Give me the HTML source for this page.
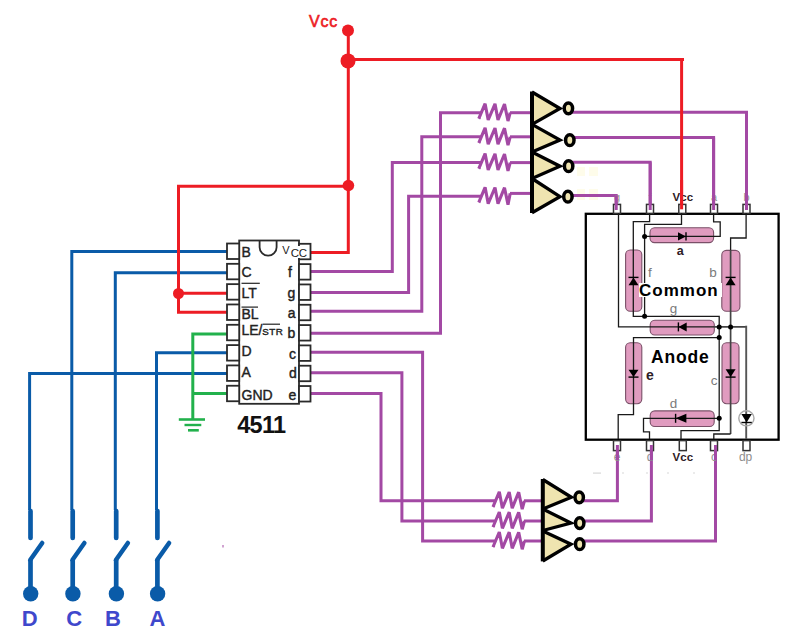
<!DOCTYPE html>
<html><head><meta charset="utf-8"><style>
html,body{margin:0;padding:0;background:#fff;overflow:hidden;}
svg{display:block;}
text{font-family:"Liberation Sans",sans-serif;}
</style></head><body>
<svg width="812" height="640" viewBox="0 0 812 640">
<rect x="589" y="189" width="9" height="11" fill="#FEFCEA"/>
<rect x="577" y="189" width="8" height="11" fill="#FEFCEA"/>
<rect x="589" y="167" width="9" height="9" fill="#FEFCEA"/>
<rect x="577" y="167" width="8" height="9" fill="#FEFCEA"/>
<rect x="693" y="472.5" width="2" height="1" fill="#d8d8d8"/>
<rect x="667" y="472.5" width="2" height="1" fill="#d8d8d8"/>
<rect x="646" y="472.5" width="2" height="1" fill="#d8d8d8"/>
<rect x="622" y="472.5" width="2" height="1" fill="#d8d8d8"/>
<rect x="593" y="472.5" width="8" height="1.2" fill="#d8d8d8"/>
<path d="M29.6,510 L29.6,373.5 L228,373.5" fill="none" stroke="#0A5BA8" stroke-width="3" stroke-linecap="butt" stroke-linejoin="miter" />
<path d="M30.5,511 L30.5,538" fill="none" stroke="#0A5BA8" stroke-width="4.7" stroke-linecap="round" stroke-linejoin="miter" />
<path d="M30.200000000000003,560 L42.2,543" fill="none" stroke="#0A5BA8" stroke-width="4.5" stroke-linecap="round" stroke-linejoin="miter" />
<path d="M30.5,560 L30.5,593" fill="none" stroke="#0A5BA8" stroke-width="4.7" stroke-linecap="butt" stroke-linejoin="miter" />
<circle cx="30.700000000000003" cy="593.8" r="7.7" fill="#0A5BA8" />
<path d="M71.8,510 L71.8,251.6 L228,251.6" fill="none" stroke="#0A5BA8" stroke-width="3" stroke-linecap="butt" stroke-linejoin="miter" />
<path d="M72.7,511 L72.7,538" fill="none" stroke="#0A5BA8" stroke-width="4.7" stroke-linecap="round" stroke-linejoin="miter" />
<path d="M72.39999999999999,560 L84.39999999999999,543" fill="none" stroke="#0A5BA8" stroke-width="4.5" stroke-linecap="round" stroke-linejoin="miter" />
<path d="M72.7,560 L72.7,593" fill="none" stroke="#0A5BA8" stroke-width="4.7" stroke-linecap="butt" stroke-linejoin="miter" />
<circle cx="72.89999999999999" cy="593.8" r="7.7" fill="#0A5BA8" />
<path d="M115.3,510 L115.3,272.8 L228,272.8" fill="none" stroke="#0A5BA8" stroke-width="3" stroke-linecap="butt" stroke-linejoin="miter" />
<path d="M116.2,511 L116.2,538" fill="none" stroke="#0A5BA8" stroke-width="4.7" stroke-linecap="round" stroke-linejoin="miter" />
<path d="M115.89999999999999,560 L127.89999999999999,543" fill="none" stroke="#0A5BA8" stroke-width="4.5" stroke-linecap="round" stroke-linejoin="miter" />
<path d="M116.2,560 L116.2,593" fill="none" stroke="#0A5BA8" stroke-width="4.7" stroke-linecap="butt" stroke-linejoin="miter" />
<circle cx="116.39999999999999" cy="593.8" r="7.7" fill="#0A5BA8" />
<path d="M156.5,510 L156.5,352.8 L228,352.8" fill="none" stroke="#0A5BA8" stroke-width="3" stroke-linecap="butt" stroke-linejoin="miter" />
<path d="M157.4,511 L157.4,538" fill="none" stroke="#0A5BA8" stroke-width="4.7" stroke-linecap="round" stroke-linejoin="miter" />
<path d="M157.1,560 L169.1,543" fill="none" stroke="#0A5BA8" stroke-width="4.5" stroke-linecap="round" stroke-linejoin="miter" />
<path d="M157.4,560 L157.4,593" fill="none" stroke="#0A5BA8" stroke-width="4.7" stroke-linecap="butt" stroke-linejoin="miter" />
<circle cx="157.6" cy="593.8" r="7.7" fill="#0A5BA8" />
<text x="29.8" y="626" font-size="22" fill="#3F48CC" font-weight="bold" text-anchor="middle" >D</text>
<text x="74.3" y="626" font-size="22" fill="#3F48CC" font-weight="bold" text-anchor="middle" >C</text>
<text x="113" y="626" font-size="22" fill="#3F48CC" font-weight="bold" text-anchor="middle" >B</text>
<text x="157.4" y="626" font-size="22" fill="#3F48CC" font-weight="bold" text-anchor="middle" >A</text>
<path d="M192.8,419 L192.8,334 L228,334" fill="none" stroke="#22B14C" stroke-width="3" stroke-linecap="butt" stroke-linejoin="miter" />
<path d="M192.8,393.5 L228,393.5" fill="none" stroke="#22B14C" stroke-width="3" stroke-linecap="butt" stroke-linejoin="miter" />
<path d="M178.8,419.5 L205,419.5" fill="none" stroke="#22B14C" stroke-width="2.6" stroke-linecap="butt" stroke-linejoin="miter" />
<path d="M184.5,425 L201.3,425" fill="none" stroke="#22B14C" stroke-width="2.4" stroke-linecap="butt" stroke-linejoin="miter" />
<path d="M188,430.3 L198.8,430.3" fill="none" stroke="#22B14C" stroke-width="2.6" stroke-linecap="butt" stroke-linejoin="miter" />
<path d="M310.5,333.3 L440.5,333.3 L440.5,112.7 L481,112.7" fill="none" stroke="#A349A4" stroke-width="3" stroke-linecap="butt" stroke-linejoin="miter" />
<path d="M479.8,117.2 L478.8,118.7 L485.1,103.7 L488.2,120.0 L495.0,103.9 L498.0,120.0 L504.5,104.10000000000001 L508.0,121.0 L510.2,112.7" fill="none" stroke="#A349A4" stroke-width="3.1" stroke-linecap="butt" stroke-linejoin="bevel" />
<path d="M510,112.7 L533,112.7" fill="none" stroke="#A349A4" stroke-width="3" stroke-linecap="butt" stroke-linejoin="miter" />
<path d="M570,112.3 L746.5,112.3 L746.5,210" fill="none" stroke="#A349A4" stroke-width="3" stroke-linecap="butt" stroke-linejoin="miter" />
<path d="M310.5,311.3 L421.8,311.3 L421.8,136.8 L481,136.8" fill="none" stroke="#A349A4" stroke-width="3" stroke-linecap="butt" stroke-linejoin="miter" />
<path d="M479.8,141.3 L478.8,142.8 L485.1,127.80000000000001 L488.2,144.10000000000002 L495.0,128.0 L498.0,144.10000000000002 L504.5,128.20000000000002 L508.0,145.10000000000002 L510.2,136.8" fill="none" stroke="#A349A4" stroke-width="3.1" stroke-linecap="butt" stroke-linejoin="bevel" />
<path d="M510,136.8 L533,136.8" fill="none" stroke="#A349A4" stroke-width="3" stroke-linecap="butt" stroke-linejoin="miter" />
<path d="M570,137.6 L713.6,137.6 L713.6,210" fill="none" stroke="#A349A4" stroke-width="3" stroke-linecap="butt" stroke-linejoin="miter" />
<path d="M310.5,271.4 L392.3,271.4 L392.3,162.6 L481,162.6" fill="none" stroke="#A349A4" stroke-width="3" stroke-linecap="butt" stroke-linejoin="miter" />
<path d="M479.8,167.1 L478.8,168.6 L485.1,153.6 L488.2,169.9 L495.0,153.79999999999998 L498.0,169.9 L504.5,154.0 L508.0,170.9 L510.2,162.6" fill="none" stroke="#A349A4" stroke-width="3.1" stroke-linecap="butt" stroke-linejoin="bevel" />
<path d="M510,162.6 L533,162.6" fill="none" stroke="#A349A4" stroke-width="3" stroke-linecap="butt" stroke-linejoin="miter" />
<path d="M570,162.2 L650.2,162.2 L650.2,210" fill="none" stroke="#A349A4" stroke-width="3" stroke-linecap="butt" stroke-linejoin="miter" />
<path d="M310.5,292.5 L408.6,292.5 L408.6,196.3 L481,196.3" fill="none" stroke="#A349A4" stroke-width="3" stroke-linecap="butt" stroke-linejoin="miter" />
<path d="M479.8,200.8 L478.8,202.3 L485.1,187.3 L488.2,203.60000000000002 L495.0,187.5 L498.0,203.60000000000002 L504.5,187.70000000000002 L508.0,204.60000000000002 L510.2,193.4" fill="none" stroke="#A349A4" stroke-width="3.1" stroke-linecap="butt" stroke-linejoin="bevel" />
<path d="M510,193.4 L533,193.4" fill="none" stroke="#A349A4" stroke-width="3" stroke-linecap="butt" stroke-linejoin="miter" />
<path d="M570,195.5 L616.2,195.5 L616.2,210" fill="none" stroke="#A349A4" stroke-width="3" stroke-linecap="butt" stroke-linejoin="miter" />
<path d="M310.5,393.5 L381,393.5 L381,500.8 L495,500.8" fill="none" stroke="#A349A4" stroke-width="3" stroke-linecap="butt" stroke-linejoin="miter" />
<path d="M494,505.3 L493,506.8 L499.3,491.8 L502.4,508.1 L509.2,492.0 L512.2,508.1 L518.7,492.2 L522.2,509.1 L524.4,500.8" fill="none" stroke="#A349A4" stroke-width="3.1" stroke-linecap="butt" stroke-linejoin="bevel" />
<path d="M524,500.8 L544,500.8" fill="none" stroke="#A349A4" stroke-width="3" stroke-linecap="butt" stroke-linejoin="miter" />
<path d="M580,500.8 L617.4,500.8 L617.4,445" fill="none" stroke="#A349A4" stroke-width="3" stroke-linecap="butt" stroke-linejoin="miter" />
<path d="M310.5,372.7 L401.9,372.7 L401.9,521.0 L495,521.0" fill="none" stroke="#A349A4" stroke-width="3" stroke-linecap="butt" stroke-linejoin="miter" />
<path d="M494,525.5 L493,527.0 L499.3,512.0 L502.4,528.3 L509.2,512.2 L512.2,528.3 L518.7,512.4 L522.2,529.3 L524.4,521.0" fill="none" stroke="#A349A4" stroke-width="3.1" stroke-linecap="butt" stroke-linejoin="bevel" />
<path d="M524,521.0 L544,521.0" fill="none" stroke="#A349A4" stroke-width="3" stroke-linecap="butt" stroke-linejoin="miter" />
<path d="M580,521.0 L651.4,521.0 L651.4,445" fill="none" stroke="#A349A4" stroke-width="3" stroke-linecap="butt" stroke-linejoin="miter" />
<path d="M310.5,352.3 L422.6,352.3 L422.6,541.0 L495,541.0" fill="none" stroke="#A349A4" stroke-width="3" stroke-linecap="butt" stroke-linejoin="miter" />
<path d="M494,545.5 L493,547.0 L499.3,532.0 L502.4,548.3 L509.2,532.2 L512.2,548.3 L518.7,532.4 L522.2,549.3 L524.4,541.0" fill="none" stroke="#A349A4" stroke-width="3.1" stroke-linecap="butt" stroke-linejoin="bevel" />
<path d="M524,541.0 L544,541.0" fill="none" stroke="#A349A4" stroke-width="3" stroke-linecap="butt" stroke-linejoin="miter" />
<path d="M580,541.0 L715.5,541.0 L715.5,445" fill="none" stroke="#A349A4" stroke-width="3" stroke-linecap="butt" stroke-linejoin="miter" />
<path d="M348.3,30 L348.3,252.5 L310.5,252.5" fill="none" stroke="#ED1C24" stroke-width="3" stroke-linecap="butt" stroke-linejoin="miter" />
<path d="M348.3,59.5 L684,59.5" fill="none" stroke="#ED1C24" stroke-width="3" stroke-linecap="butt" stroke-linejoin="miter" />
<path d="M681.6,58 L681.6,209.3" fill="none" stroke="#ED1C24" stroke-width="3" stroke-linecap="butt" stroke-linejoin="miter" />
<circle cx="348" cy="30.6" r="6" fill="#ED1C24" />
<circle cx="348" cy="60.9" r="7.5" fill="#ED1C24" />
<path d="M348.3,186.3 L178.5,186.3 L178.5,312.3 L228,312.3" fill="none" stroke="#ED1C24" stroke-width="3" stroke-linecap="butt" stroke-linejoin="miter" />
<path d="M178.5,293.2 L228,293.2" fill="none" stroke="#ED1C24" stroke-width="3" stroke-linecap="butt" stroke-linejoin="miter" />
<circle cx="348.4" cy="185.5" r="5.8" fill="#ED1C24" />
<circle cx="178.5" cy="293.5" r="5.5" fill="#ED1C24" />
<text x="309" y="27" font-size="16" fill="#ED1C24" font-weight="normal" text-anchor="start" letter-spacing="0.8" stroke="#ED1C24" stroke-width="0.6">Vcc</text>
<path d="M532,92 L560,108.5 L532,124.4 Z" fill="#EFE4B0"/>
<path d="M532,124.4 L560,140 L532,152 Z" fill="#EFE4B0"/>
<path d="M532,152 L560,166.2 L532,178.5 Z" fill="#EFE4B0"/>
<path d="M532,178.5 L560,196.6 L532,212.8 Z" fill="#EFE4B0"/>
<path d="M532,92 L560,108.5 L532,124.4" fill="none" stroke="#000" stroke-width="3.3" stroke-linejoin="miter" stroke-miterlimit="3"/>
<path d="M532,124.4 L560,140 L532,152" fill="none" stroke="#000" stroke-width="3.3" stroke-linejoin="miter" stroke-miterlimit="3"/>
<path d="M532,152 L560,166.2 L532,178.5" fill="none" stroke="#000" stroke-width="3.3" stroke-linejoin="miter" stroke-miterlimit="3"/>
<path d="M532,178.5 L560,196.6 L532,212.8" fill="none" stroke="#000" stroke-width="3.3" stroke-linejoin="miter" stroke-miterlimit="3"/>
<ellipse cx="568.4" cy="108.3" rx="4.2" ry="5.4" fill="#EFE4B0" stroke="#000" stroke-width="3.5"/>
<ellipse cx="569.8" cy="140.2" rx="4.2" ry="5.4" fill="#EFE4B0" stroke="#000" stroke-width="3.5"/>
<ellipse cx="568.6" cy="166.2" rx="4.2" ry="5.4" fill="#EFE4B0" stroke="#000" stroke-width="3.5"/>
<ellipse cx="567.9" cy="196.7" rx="4.2" ry="5.4" fill="#EFE4B0" stroke="#000" stroke-width="3.5"/>
<path d="M532,91.5 L532,213" fill="none" stroke="#000" stroke-width="4" stroke-linecap="butt" stroke-linejoin="miter" />
<path d="M542.8,479.5 L571.4,497.3 L542.8,509 Z" fill="#EFE4B0"/>
<path d="M542.8,509 L571,523.1 L542.8,530.5 Z" fill="#EFE4B0"/>
<path d="M542.8,531 L571,544.2 L542.8,561 Z" fill="#EFE4B0"/>
<path d="M542.8,479.5 L571.4,497.3 L542.8,509" fill="none" stroke="#000" stroke-width="3.3" stroke-linejoin="miter" stroke-miterlimit="3"/>
<path d="M542.8,509 L571,523.1 L542.8,530.5" fill="none" stroke="#000" stroke-width="3.3" stroke-linejoin="miter" stroke-miterlimit="3"/>
<path d="M542.8,531 L571,544.2 L542.8,561" fill="none" stroke="#000" stroke-width="3.3" stroke-linejoin="miter" stroke-miterlimit="3"/>
<ellipse cx="579.2" cy="497.3" rx="4.2" ry="5.4" fill="#EFE4B0" stroke="#000" stroke-width="3.5"/>
<ellipse cx="579.7" cy="523.1" rx="4.2" ry="5.4" fill="#EFE4B0" stroke="#000" stroke-width="3.5"/>
<ellipse cx="579.7" cy="544.2" rx="4.2" ry="5.4" fill="#EFE4B0" stroke="#000" stroke-width="3.5"/>
<path d="M542.8,479 L542.8,561.4" fill="none" stroke="#000" stroke-width="4" stroke-linecap="butt" stroke-linejoin="miter" />
<rect x="239.2" y="240.5" width="59.8" height="163.3" fill="#fff" stroke="#2a2a2a" stroke-width="1.8"/>
<path d="M259.6,240.5 L259.6,247.2 A8.5,8.5 0 0 0 276.6,247.2 L276.6,240.5" fill="none" stroke="#2a2a2a" stroke-width="1.8"/>
<rect x="227" y="243.50" width="12.2" height="15.5" fill="#fff" stroke="#2a2a2a" stroke-width="1.8"/>
<rect x="299" y="243.80" width="11.5" height="15.5" fill="#fff" stroke="#2a2a2a" stroke-width="1.8"/>
<rect x="227" y="263.82" width="12.2" height="15.5" fill="#fff" stroke="#2a2a2a" stroke-width="1.8"/>
<rect x="299" y="264.12" width="11.5" height="15.5" fill="#fff" stroke="#2a2a2a" stroke-width="1.8"/>
<rect x="227" y="284.14" width="12.2" height="15.5" fill="#fff" stroke="#2a2a2a" stroke-width="1.8"/>
<rect x="299" y="284.44" width="11.5" height="15.5" fill="#fff" stroke="#2a2a2a" stroke-width="1.8"/>
<rect x="227" y="304.46" width="12.2" height="15.5" fill="#fff" stroke="#2a2a2a" stroke-width="1.8"/>
<rect x="299" y="304.76" width="11.5" height="15.5" fill="#fff" stroke="#2a2a2a" stroke-width="1.8"/>
<rect x="227" y="324.78" width="12.2" height="15.5" fill="#fff" stroke="#2a2a2a" stroke-width="1.8"/>
<rect x="299" y="325.08" width="11.5" height="15.5" fill="#fff" stroke="#2a2a2a" stroke-width="1.8"/>
<rect x="227" y="345.10" width="12.2" height="15.5" fill="#fff" stroke="#2a2a2a" stroke-width="1.8"/>
<rect x="299" y="345.40" width="11.5" height="15.5" fill="#fff" stroke="#2a2a2a" stroke-width="1.8"/>
<rect x="227" y="365.42" width="12.2" height="15.5" fill="#fff" stroke="#2a2a2a" stroke-width="1.8"/>
<rect x="299" y="365.72" width="11.5" height="15.5" fill="#fff" stroke="#2a2a2a" stroke-width="1.8"/>
<rect x="227" y="385.74" width="12.2" height="15.5" fill="#fff" stroke="#2a2a2a" stroke-width="1.8"/>
<rect x="299" y="386.04" width="11.5" height="15.5" fill="#fff" stroke="#2a2a2a" stroke-width="1.8"/>
<text x="241.5" y="257.3" font-size="14" fill="#222" font-weight="normal" text-anchor="start" stroke="#222" stroke-width="0.4">B</text>
<text x="241.5" y="277.2" font-size="14" fill="#222" font-weight="normal" text-anchor="start" stroke="#222" stroke-width="0.4">C</text>
<text x="241.5" y="298.0" font-size="14" fill="#222" font-weight="normal" text-anchor="start" stroke="#222" stroke-width="0.4">LT</text>
<text x="241.5" y="318.7" font-size="14" fill="#222" font-weight="normal" text-anchor="start" stroke="#222" stroke-width="0.4">BL</text>
<text x="241.5" y="334.7" font-size="14" fill="#222" font-weight="normal" text-anchor="start" stroke="#222" stroke-width="0.4">LE/</text>
<text x="241.5" y="356" font-size="14" fill="#222" font-weight="normal" text-anchor="start" stroke="#222" stroke-width="0.4">D</text>
<text x="241.5" y="377.2" font-size="14" fill="#222" font-weight="normal" text-anchor="start" stroke="#222" stroke-width="0.4">A</text>
<text x="241.5" y="399.7" font-size="14" fill="#222" font-weight="normal" text-anchor="start" stroke="#222" stroke-width="0.4">GND</text>
<path d="M241.5,283.3 L259.8,283.3" fill="none" stroke="#222" stroke-width="1.2" stroke-linecap="butt" stroke-linejoin="miter" />
<path d="M241.5,307.1 L258,307.1" fill="none" stroke="#222" stroke-width="1.2" stroke-linecap="butt" stroke-linejoin="miter" />
<text x="262.3" y="334.7" font-size="9.8" fill="#222" font-weight="normal" text-anchor="start" stroke="#222" stroke-width="0.4" letter-spacing="0.5">STR</text>
<path d="M262.8,324.2 L280,324.2" fill="none" stroke="#222" stroke-width="1.2" stroke-linecap="butt" stroke-linejoin="miter" />
<text x="290" y="276.6" font-size="14" fill="#222" font-weight="normal" text-anchor="middle" stroke="#222" stroke-width="0.4">f</text>
<text x="291.5" y="297.5" font-size="14" fill="#222" font-weight="normal" text-anchor="middle" stroke="#222" stroke-width="0.4">g</text>
<text x="291.6" y="318.1" font-size="14" fill="#222" font-weight="normal" text-anchor="middle" stroke="#222" stroke-width="0.4">a</text>
<text x="291.5" y="338.2" font-size="14" fill="#222" font-weight="normal" text-anchor="middle" stroke="#222" stroke-width="0.4">b</text>
<text x="292.6" y="358.9" font-size="14" fill="#222" font-weight="normal" text-anchor="middle" stroke="#222" stroke-width="0.4">c</text>
<text x="292.8" y="378.4" font-size="14" fill="#222" font-weight="normal" text-anchor="middle" stroke="#222" stroke-width="0.4">d</text>
<text x="292.5" y="399.7" font-size="14" fill="#222" font-weight="normal" text-anchor="middle" stroke="#222" stroke-width="0.4">e</text>
<rect x="290.5" y="246" width="17" height="12" fill="#fff"/>
<text x="282.3" y="254.1" font-size="11" fill="#222" font-weight="normal" text-anchor="start" >V</text>
<text x="290.8" y="257.2" font-size="11.5" fill="#222" font-weight="normal" text-anchor="start" letter-spacing="-0.3">CC</text>
<text x="237.2" y="432.8" font-size="23.5" fill="#111" font-weight="bold" text-anchor="start" letter-spacing="-0.7">4511</text>
<rect x="585.8" y="213.8" width="192.8" height="225.9" fill="#fff" stroke="#000" stroke-width="2.3"/>
<rect x="613.5" y="204.4" width="7" height="9" fill="#fff" stroke="#333" stroke-width="1.5"/>
<rect x="646.5" y="204.4" width="7" height="9" fill="#fff" stroke="#333" stroke-width="1.5"/>
<rect x="678.8" y="204.4" width="7" height="9" fill="#fff" stroke="#333" stroke-width="1.5"/>
<rect x="710.5" y="204.4" width="7" height="9" fill="#fff" stroke="#333" stroke-width="1.5"/>
<rect x="743.0" y="204.4" width="7" height="9" fill="#fff" stroke="#333" stroke-width="1.5"/>
<rect x="613.5" y="440.6" width="7" height="10" fill="#fff" stroke="#333" stroke-width="1.5"/>
<rect x="646.5" y="440.6" width="7" height="10" fill="#fff" stroke="#333" stroke-width="1.5"/>
<rect x="679.3" y="440.6" width="7" height="10" fill="#fff" stroke="#333" stroke-width="1.5"/>
<rect x="710.5" y="440.6" width="7" height="10" fill="#fff" stroke="#333" stroke-width="1.5"/>
<rect x="743.0" y="440.6" width="7" height="10" fill="#fff" stroke="#333" stroke-width="1.5"/>
<rect x="650" y="227.8" width="63.60" height="14.80" rx="4.6" ry="4.6" fill="#E09BBF" stroke="#7A5068" stroke-width="1.1"/>
<rect x="625.6" y="250" width="16.20" height="61.30" rx="4.6" ry="4.6" fill="#E09BBF" stroke="#7A5068" stroke-width="1.1"/>
<rect x="721.8" y="250.4" width="18.10" height="60.90" rx="4.6" ry="4.6" fill="#E09BBF" stroke="#7A5068" stroke-width="1.1"/>
<rect x="650.2" y="320.2" width="64.10" height="14.80" rx="4.6" ry="4.6" fill="#E09BBF" stroke="#7A5068" stroke-width="1.1"/>
<rect x="625.6" y="342.7" width="16.20" height="61.00" rx="4.6" ry="4.6" fill="#E09BBF" stroke="#7A5068" stroke-width="1.1"/>
<rect x="722" y="342.7" width="17.00" height="61.00" rx="4.6" ry="4.6" fill="#E09BBF" stroke="#7A5068" stroke-width="1.1"/>
<rect x="650.2" y="410.9" width="64.00" height="15.60" rx="4.6" ry="4.6" fill="#E09BBF" stroke="#7A5068" stroke-width="1.1"/>
<path d="M618.5,213 L618.5,326.9 L714,326.9" fill="none" stroke="#1a1a1a" stroke-width="1.3" stroke-linecap="butt" stroke-linejoin="miter" />
<path d="M714,326.9 L746.2,326.9" fill="none" stroke="#444" stroke-width="1.6" stroke-linecap="butt" stroke-linejoin="miter" />
<path d="M746.2,325.7 L746.2,439" fill="none" stroke="#555" stroke-width="1.9" stroke-linecap="butt" stroke-linejoin="miter" />
<path d="M649.6,213 L649.6,221.6 L633.3,221.6 L633.3,316.3 L719.2,316.3 L719.2,430.6 L681,430.6 L681,439" fill="none" stroke="#1a1a1a" stroke-width="1.3" stroke-linecap="butt" stroke-linejoin="miter" />
<path d="M681.5,213 L681.5,224.3 L644.6,224.3 L644.6,316.3" fill="none" stroke="#1a1a1a" stroke-width="1.3" stroke-linecap="butt" stroke-linejoin="miter" />
<path d="M644.6,236.4 L720.2,236.4 L720.2,221.8 L713.6,221.8 L713.6,213" fill="none" stroke="#1a1a1a" stroke-width="1.3" stroke-linecap="butt" stroke-linejoin="miter" />
<path d="M746.1,213 L746.1,238 L730.6,238 L730.6,250" fill="none" stroke="#1a1a1a" stroke-width="1.3" stroke-linecap="butt" stroke-linejoin="miter" />
<path d="M730.6,250 L730.6,434" fill="none" stroke="#444" stroke-width="1.7" stroke-linecap="butt" stroke-linejoin="miter" />
<path d="M730.6,434 L713.8,434 L713.8,439" fill="none" stroke="#1a1a1a" stroke-width="1.3" stroke-linecap="butt" stroke-linejoin="miter" />
<path d="M719.2,337.6 L633.5,337.6 L633.5,414.6 L618.2,414.6 L618.2,439" fill="none" stroke="#1a1a1a" stroke-width="1.3" stroke-linecap="butt" stroke-linejoin="miter" />
<path d="M719.2,418.3 L643.5,418.3 L643.5,431.9 L649.5,431.9 L649.5,439" fill="none" stroke="#1a1a1a" stroke-width="1.3" stroke-linecap="butt" stroke-linejoin="miter" />
<circle cx="644.6" cy="236.4" r="2.5" fill="#000" />
<circle cx="644.6" cy="316.3" r="2.5" fill="#000" />
<circle cx="719.2" cy="326.9" r="2.5" fill="#000" />
<circle cx="730.6" cy="326.9" r="2.5" fill="#000" />
<circle cx="719.2" cy="337.5" r="2.5" fill="#000" />
<circle cx="719.2" cy="418.3" r="2.5" fill="#000" />
<path d="M678,232.20000000000002 L686,236.4 L678,240.6 Z" fill="#000"/>
<path d="M686,232.20000000000002 L686,240.6" fill="none" stroke="#000" stroke-width="1.4" stroke-linecap="butt" stroke-linejoin="miter" />
<path d="M628.5,285.3 L633.5,277.4 L638.5,285.3 Z" fill="#000"/>
<path d="M628.5,277.4 L638.5,277.4" fill="none" stroke="#000" stroke-width="1.4" stroke-linecap="butt" stroke-linejoin="miter" />
<path d="M725.6,285.3 L730.6,277.4 L735.6,285.3 Z" fill="#000"/>
<path d="M725.6,277.4 L735.6,277.4" fill="none" stroke="#000" stroke-width="1.4" stroke-linecap="butt" stroke-linejoin="miter" />
<path d="M686.7,322.4 L678.4,326.9 L686.7,331.4 Z" fill="#000"/>
<path d="M678.4,322.4 L678.4,331.4" fill="none" stroke="#000" stroke-width="1.4" stroke-linecap="butt" stroke-linejoin="miter" />
<path d="M628.5,369.7 L633.5,377.1 L638.5,369.7 Z" fill="#000"/>
<path d="M628.5,377.1 L638.5,377.1" fill="none" stroke="#000" stroke-width="1.4" stroke-linecap="butt" stroke-linejoin="miter" />
<path d="M725.6,369.3 L730.6,377.1 L735.6,369.3 Z" fill="#000"/>
<path d="M725.6,377.1 L735.6,377.1" fill="none" stroke="#000" stroke-width="1.4" stroke-linecap="butt" stroke-linejoin="miter" />
<path d="M686.4,413.8 L675.6,418.3 L686.4,422.8 Z" fill="#000"/>
<path d="M675.6,413.8 L675.6,422.8" fill="none" stroke="#000" stroke-width="1.4" stroke-linecap="butt" stroke-linejoin="miter" />
<circle cx="746.4" cy="418.3" r="7.6" fill="none" stroke="#a8a8a8" stroke-width="1.4"/>
<path d="M741.4,414 L746.6,422.5 L751.8000000000001,414 Z" fill="#000"/>
<path d="M741.4,422.5 L751.8000000000001,422.5" fill="none" stroke="#000" stroke-width="1.4" stroke-linecap="butt" stroke-linejoin="miter" />
<text x="680.3" y="255.2" font-size="12.5" fill="#2e2026" font-weight="bold" text-anchor="middle" >a</text>
<text x="650" y="277.4" font-size="13.5" fill="#7a7a7a" font-weight="normal" text-anchor="middle" >f</text>
<text x="713" y="277.4" font-size="13.5" fill="#7a7a7a" font-weight="normal" text-anchor="middle" >b</text>
<text x="673.4" y="313" font-size="13.5" fill="#7a7a7a" font-weight="normal" text-anchor="middle" >g</text>
<rect x="639" y="283" width="83" height="14" fill="#fff"/>
<text x="639" y="296" font-size="17" fill="#000" font-weight="bold" text-anchor="start" letter-spacing="1">Common</text>
<text x="651" y="362.7" font-size="17.5" fill="#000" font-weight="bold" text-anchor="start" letter-spacing="0.8">Anode</text>
<text x="650" y="380.1" font-size="14" fill="#2e2026" font-weight="bold" text-anchor="middle" >e</text>
<text x="714" y="384.6" font-size="13.5" fill="#7a7a7a" font-weight="normal" text-anchor="middle" >c</text>
<text x="673.4" y="407.7" font-size="13.5" fill="#7a7a7a" font-weight="normal" text-anchor="middle" >d</text>
<text x="617" y="201" font-size="11" fill="#909090" font-weight="normal" text-anchor="middle" >g</text>
<text x="650" y="201" font-size="11" fill="#909090" font-weight="normal" text-anchor="middle" >f</text>
<text x="714" y="201" font-size="11" fill="#909090" font-weight="normal" text-anchor="middle" >a</text>
<text x="746.5" y="201" font-size="11" fill="#909090" font-weight="normal" text-anchor="middle" >b</text>
<text x="682.8" y="201" font-size="11.5" fill="#2e2026" font-weight="bold" text-anchor="middle" >Vcc</text>
<text x="617" y="461.3" font-size="12" fill="#8e8e8e" font-weight="normal" text-anchor="middle" >e</text>
<text x="650" y="461.3" font-size="12" fill="#8e8e8e" font-weight="normal" text-anchor="middle" >d</text>
<text x="714" y="461.3" font-size="12" fill="#8e8e8e" font-weight="normal" text-anchor="middle" >c</text>
<text x="682.8" y="461.3" font-size="11.5" fill="#2e2026" font-weight="bold" text-anchor="middle" >Vcc</text>
<text x="745.6" y="461.3" font-size="12" fill="#8e8e8e" font-weight="normal" text-anchor="middle" >dp</text>
<path d="M746.5,112.3 L746.5,210" fill="none" stroke="#A349A4" stroke-width="3" stroke-linecap="butt" stroke-linejoin="miter" />
<path d="M713.6,137.6 L713.6,210" fill="none" stroke="#A349A4" stroke-width="3" stroke-linecap="butt" stroke-linejoin="miter" />
<path d="M650.2,162.2 L650.2,210" fill="none" stroke="#A349A4" stroke-width="3" stroke-linecap="butt" stroke-linejoin="miter" />
<path d="M616.2,195.5 L616.2,210" fill="none" stroke="#A349A4" stroke-width="3" stroke-linecap="butt" stroke-linejoin="miter" />
<path d="M617.4,445 L617.4,460" fill="none" stroke="#A349A4" stroke-width="3" stroke-linecap="butt" stroke-linejoin="miter" />
<path d="M651.4,445 L651.4,460" fill="none" stroke="#A349A4" stroke-width="3" stroke-linecap="butt" stroke-linejoin="miter" />
<path d="M715.5,445 L715.5,460" fill="none" stroke="#A349A4" stroke-width="3" stroke-linecap="butt" stroke-linejoin="miter" />
<path d="M681.6,180 L681.6,209.3" fill="none" stroke="#ED1C24" stroke-width="3" stroke-linecap="butt" stroke-linejoin="miter" />
<rect x="222.5" y="545" width="1" height="2.5" fill="#A349A4"/>
</svg>
</body></html>
